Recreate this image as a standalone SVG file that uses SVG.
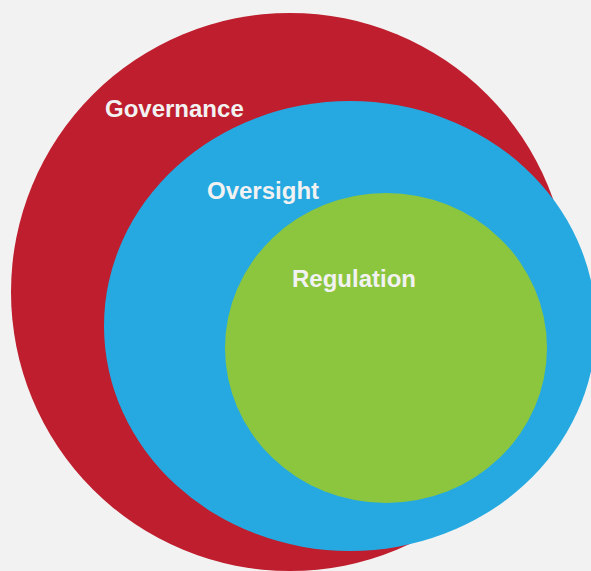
<svg xmlns="http://www.w3.org/2000/svg" width="591" height="571" viewBox="0 0 591 571">
<style>
.lbl{font-family:"Liberation Sans",Arial,Helvetica,sans-serif;font-weight:bold;font-size:24px;fill:#f2f2f2}
</style>
<rect width="591" height="571" fill="#f2f2f2"/>
<g id="governance">
<circle cx="290" cy="292" r="279" fill="#be1e2d"/>
<text class="lbl" x="105" y="117">Governance</text>
</g>
<g id="oversight">
<ellipse cx="350" cy="326" rx="246" ry="225" fill="#25a9e0"/>
<text class="lbl" x="207" y="199">Oversight</text>
</g>
<g id="regulation">
<ellipse cx="386" cy="348" rx="161" ry="155" fill="#8cc63f"/>
<text class="lbl" x="292" y="287">Regulation</text>
</g>
</svg>
